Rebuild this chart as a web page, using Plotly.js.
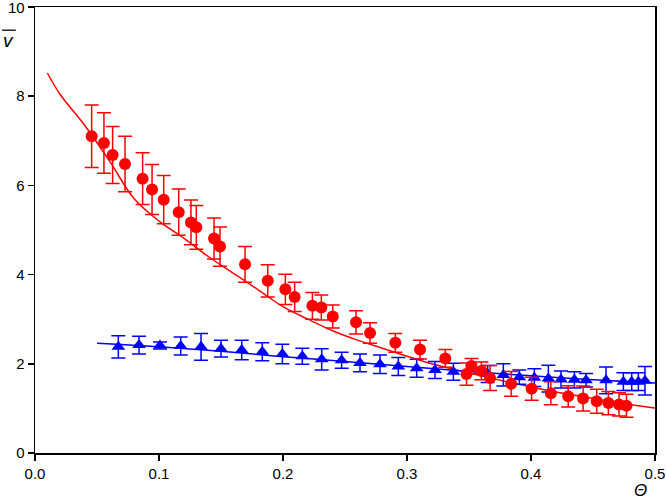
<!DOCTYPE html>
<html>
<head>
<meta charset="utf-8">
<script src="https://cdn.plot.ly/plotly-3.0.1.min.js"></script>
<style>html,body{margin:0;padding:0;background:#fff;}#chart{width:666px;height:503px;}</style>
</head>
<body>
<div id="chart"></div>
<script>
// Red series (circles)
const redTheta = [0.0457,0.0556,0.0626,0.0726,0.0868,0.0944,0.1038,0.1159,0.1258,0.1301,0.1444,0.1492,0.1694,0.1877,0.2019,0.2094,0.2237,0.2309,0.2401,0.2589,0.2702,0.2906,0.3105,0.3309,0.348,0.352,0.360,0.367,0.384,0.4005,0.416,0.430,0.442,0.453,0.4624,0.471,0.477];
const redV     = [7.10,6.95,6.68,6.48,6.15,5.91,5.68,5.40,5.17,5.06,4.81,4.63,4.23,3.86,3.67,3.50,3.30,3.26,3.06,2.93,2.69,2.47,2.32,2.12,1.77,1.95,1.84,1.68,1.55,1.44,1.34,1.27,1.22,1.16,1.12,1.09,1.06];
const redErr   = [0.70,0.68,0.64,0.62,0.58,0.56,0.54,0.52,0.50,0.49,0.46,0.44,0.40,0.36,0.34,0.33,0.30,0.28,0.26,0.26,0.23,0.21,0.21,0.20,0.25,0.17,0.20,0.28,0.28,0.26,0.26,0.24,0.28,0.27,0.26,0.26,0.26];

// Blue series (triangles)
const blueTheta = [0.0672,0.0839,0.1008,0.1175,0.1339,0.1500,0.1667,0.1833,0.1995,0.2156,0.2312,0.2473,0.2621,0.2782,0.2930,0.3078,0.3226,0.3374,0.365,0.3777,0.3906,0.4027,0.414,0.4242,0.435,0.4444,0.4605,0.4745,0.4812,0.4866,0.4919];
const blueV     = [2.38,2.42,2.41,2.40,2.38,2.34,2.31,2.27,2.22,2.17,2.10,2.08,2.02,1.99,1.94,1.90,1.86,1.82,1.77,1.75,1.70,1.69,1.67,1.65,1.64,1.63,1.63,1.60,1.60,1.60,1.62];
const blueErr   = [0.25,0.20,0.08,0.20,0.30,0.19,0.22,0.20,0.22,0.18,0.24,0.18,0.20,0.21,0.20,0.20,0.19,0.19,0.19,0.25,0.16,0.20,0.30,0.19,0.18,0.15,0.30,0.20,0.20,0.20,0.32];

// Fitted curves
const redFitTheta = [0.01,0.02,0.04,0.06,0.08,0.10,0.12,0.14,0.16,0.18,0.20,0.22,0.24,0.26,0.28,0.30,0.32,0.34,0.36,0.38,0.40,0.42,0.44,0.46,0.48,0.50];
const redFitV     = [8.52,8.05,7.35,6.55,5.70,5.20,4.82,4.40,4.03,3.66,3.28,3.00,2.74,2.53,2.35,2.17,2.00,1.86,1.73,1.60,1.48,1.37,1.27,1.18,1.09,1.01];
const blueFitTheta = [0.05,0.10,0.15,0.20,0.25,0.30,0.35,0.40,0.45,0.50];
const blueFitV     = [2.46,2.38,2.28,2.16,2.05,1.94,1.83,1.73,1.64,1.57];

const xTicks = [0,0.1,0.2,0.3,0.4,0.5];
const xTickText = ["0.0","0.1","0.2","0.3","0.4","0.5"];
const yTicks = [0,2,4,6,8,10];
const yTickText = ["0","2","4","6","8",""];
const yTopLabel = "10";

const RED = '#ff0000', BLUE = '#0000ff';

const traces = [
  {x: redFitTheta, y: redFitV, mode: 'lines', line: {color: RED, width: 1.5, shape: 'spline'}, hoverinfo: 'skip'},
  {x: blueFitTheta, y: blueFitV, mode: 'lines', line: {color: BLUE, width: 1.5, shape: 'spline'}, hoverinfo: 'skip'},
  {x: blueTheta, y: blueV, mode: 'markers',
   marker: {symbol: 'triangle-up', size: 12, color: BLUE},
   error_y: {type: 'data', array: blueErr, visible: true, color: BLUE, thickness: 1.5, width: 7}},
  {x: redTheta, y: redV, mode: 'markers',
   marker: {symbol: 'circle', size: 12, color: RED},
   error_y: {type: 'data', array: redErr, visible: true, color: RED, thickness: 1.5, width: 7}}
];

const layout = {
  width: 666, height: 503,
  margin: {l: 35, r: 11, t: 7, b: 50},
  paper_bgcolor: '#fff', plot_bgcolor: '#fff',
  showlegend: false,
  font: {family: 'Liberation Sans, Arial, sans-serif', size: 15, color: '#000'},
  xaxis: {range: [0, 0.5], tickvals: xTicks, ticktext: xTickText, ticks: 'outside', ticklen: 6, tickwidth: 1.5,
          tickcolor: '#000', showline: true, linecolor: '#000', linewidth: 1.5, mirror: true,
          showgrid: false, zeroline: false, tickfont: {size: 15}},
  yaxis: {range: [0, 10], tickvals: yTicks, ticktext: yTickText, ticks: 'outside', ticklen: 6, tickwidth: 1.5,
          tickcolor: '#000', showline: true, linecolor: '#000', linewidth: 1.5, mirror: true,
          showgrid: false, zeroline: false, tickfont: {size: 15}},
  annotations: [
    {text: yTopLabel, xref: 'paper', yref: 'y', x: 0, y: 10, xanchor: 'right', yanchor: 'middle', xshift: -8,
     showarrow: false, font: {size: 15, family: 'Liberation Sans, Arial, sans-serif'}},
    {text: '<i>v</i>', xref: 'paper', yref: 'paper', x: -0.042, y: 0.926, showarrow: false,
     font: {size: 19, family: 'Liberation Sans, Arial, sans-serif'}, xanchor: 'center', yanchor: 'middle'},
    {text: '<i>Θ</i>', xref: 'paper', yref: 'paper', x: 0.976, y: -0.083, showarrow: false,
     font: {size: 17, family: 'Liberation Sans, Arial, sans-serif'}, xanchor: 'center', yanchor: 'middle'}
  ],
  shapes: [
    {type: 'line', xref: 'paper', yref: 'paper', x0: -0.053, x1: -0.031, y0: 0.948, y1: 0.948,
     line: {color: '#000', width: 1.3}}
  ]
};

Plotly.newPlot('chart', traces, layout, {displayModeBar: false, staticPlot: true});
</script>
</body>
</html>
